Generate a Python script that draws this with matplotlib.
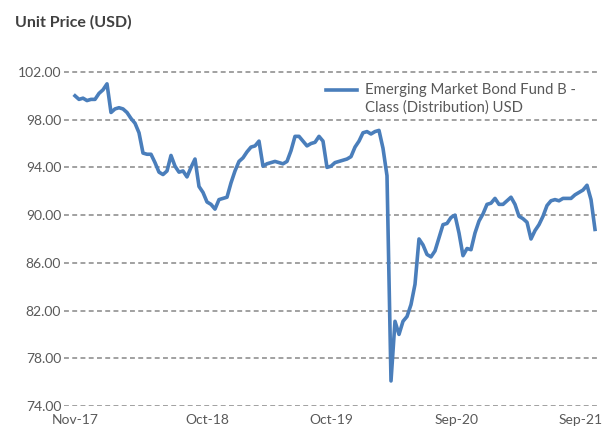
import matplotlib
matplotlib.use("Agg")
import matplotlib.pyplot as plt
from matplotlib.lines import Line2D

# ---- data -------------------------------------------------------------
series_name = "Emerging Market Bond Fund B -\nClass (Distribution) USD"
prices = [
    100.0, 99.7, 99.8, 99.6, 99.7, 99.7, 100.2, 100.5, 101.0, 98.6,
    98.9, 99.0, 98.9, 98.6, 98.1, 97.7, 96.9, 95.2, 95.1, 95.1,
    94.4, 93.6, 93.4, 93.7, 95.0, 94.1, 93.6, 93.7, 93.2, 94.0,
    94.7, 92.4, 91.9, 91.1, 90.9, 90.5, 91.3, 91.4, 91.5, 92.7,
    93.7, 94.5, 94.8, 95.3, 95.7, 95.8, 96.2, 94.1, 94.3, 94.4,
    94.5, 94.4, 94.3, 94.5, 95.4, 96.6, 96.6, 96.2, 95.8, 96.0,
    96.1, 96.6, 96.2, 94.0, 94.1, 94.4, 94.5, 94.6, 94.7, 94.9,
    95.7, 96.2, 96.9, 97.0, 96.8, 97.0, 97.1, 95.6, 93.3, 76.1,
    81.1, 80.0, 81.1, 81.5, 82.5, 84.2, 88.0, 87.5, 86.7, 86.5,
    87.0, 88.1, 89.2, 89.3, 89.8, 90.0, 88.5, 86.6, 87.2, 87.1,
    88.5, 89.5, 90.1, 90.9, 91.0, 91.4, 90.9, 90.9, 91.2, 91.5,
    90.9, 89.9, 89.7, 89.4, 88.0, 88.7, 89.2, 89.9, 90.8, 91.2,
    91.3, 91.2, 91.4, 91.4, 91.4, 91.7, 91.9, 92.1, 92.5, 91.3,
    88.8,
]
tick_labels = ["Nov-17", "Oct-18", "Oct-19", "Sep-20", "Sep-21"]
tick_index = [0, 33, 64, 95.5, 126.3]
y_ticks = [74, 78, 82, 86, 90, 94, 98, 102]
y_title = "Unit Price (USD)"

# ---- style ------------------------------------------------------------
plt.rcParams["font.family"] = ["Lato", "DejaVu Sans"]
line_color = "#4A7EBB"
grid_color = "#878787"
text_color = "#595959"

W, H = 606, 432
fig = plt.figure(figsize=(W / 100, H / 100), dpi=100)
left_px, right_px, top_px, bottom_px = 64, 597, 60, 406
ax = fig.add_axes([left_px / W, 1 - bottom_px / H,
                   (right_px - left_px) / W, (bottom_px - top_px) / H])

x = list(range(len(prices)))
ax.plot(x, prices, color=line_color, lw=2.6, solid_joinstyle="round",
        zorder=3)

ax.set_xlim(-2.75, 130.5)
ax.set_ylim(74, 103)
ax.set_yticks(y_ticks)
ax.set_yticklabels([f"{v:.2f}" for v in y_ticks])
ax.set_xticks(tick_index)
ax.set_xticklabels(tick_labels)
ax.tick_params(axis="both", length=0, labelsize=10, colors=text_color)
ax.tick_params(axis="y", pad=2)
ax.tick_params(axis="x", pad=6)

for s in ax.spines.values():
    s.set_visible(False)
ax.yaxis.grid(True, color=grid_color, lw=1.1, linestyle=(0, (3.2, 2.2)))
ax.set_axisbelow(True)

# title
fig.text(15 / W, 1 - 22 / H, y_title, fontsize=11.5, fontweight="bold",
         color="#404040", ha="left", va="center")

# legend (handle at first text line)
lx0, lx1, ly = 326, 357, 90
fig.add_artist(Line2D([lx0 / W, lx1 / W], [1 - ly / H, 1 - ly / H],
                      color=line_color, lw=2.6, transform=fig.transFigure))
lines = series_name.split("\n")
fig.text(365 / W, 1 - 90 / H, lines[0], fontsize=10.7, color=text_color,
         ha="left", va="center")
fig.text(365 / W, 1 - 108 / H, lines[1], fontsize=10.7, color=text_color,
         ha="left", va="center")

fig.savefig("out.png", dpi=100)
